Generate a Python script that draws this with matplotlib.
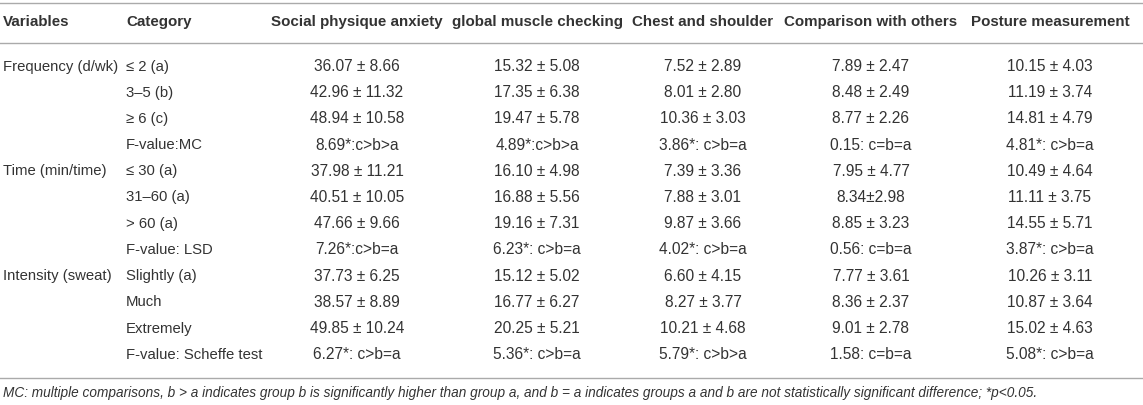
import matplotlib
matplotlib.use("Agg")
import matplotlib.pyplot as plt
from matplotlib.lines import Line2D

plt.rcParams['font.family'] = ['Liberation Sans', 'DejaVu Sans']

W, H = 1143, 405

headers = ["Variables", "Category", "Social physique anxiety", "global muscle checking",
           "Chest and shoulder", "Comparison with others", "Posture measurement"]

variables = ["Frequency (d/wk)", "", "", "",
             "Time (min/time)", "", "", "",
             "Intensity (sweat)", "", "", ""]

categories = ["\u2264 2 (a)", "3\u20135 (b)", "\u2265 6 (c)", "F-value:MC",
              "\u2264 30 (a)", "31\u201360 (a)", "> 60 (a)", "F-value: LSD",
              "Slightly (a)", "Much", "Extremely", "F-value: Scheffe test"]

social_physique = ["36.07 \u00b1 8.66", "42.96 \u00b1 11.32", "48.94 \u00b1 10.58", "8.69*:c>b>a",
                   "37.98 \u00b1 11.21", "40.51 \u00b1 10.05", "47.66 \u00b1 9.66", "7.26*:c>b=a",
                   "37.73 \u00b1 6.25", "38.57 \u00b1 8.89", "49.85 \u00b1 10.24", "6.27*: c>b=a"]

muscle_checking = ["15.32 \u00b1 5.08", "17.35 \u00b1 6.38", "19.47 \u00b1 5.78", "4.89*:c>b>a",
                   "16.10 \u00b1 4.98", "16.88 \u00b1 5.56", "19.16 \u00b1 7.31", "6.23*: c>b=a",
                   "15.12 \u00b1 5.02", "16.77 \u00b1 6.27", "20.25 \u00b1 5.21", "5.36*: c>b=a"]

chest_shoulder = ["7.52 \u00b1 2.89", "8.01 \u00b1 2.80", "10.36 \u00b1 3.03", "3.86*: c>b=a",
                  "7.39 \u00b1 3.36", "7.88 \u00b1 3.01", "9.87 \u00b1 3.66", "4.02*: c>b=a",
                  "6.60 \u00b1 4.15", "8.27 \u00b1 3.77", "10.21 \u00b1 4.68", "5.79*: c>b>a"]

comparison = ["7.89 \u00b1 2.47", "8.48 \u00b1 2.49", "8.77 \u00b1 2.26", "0.15: c=b=a",
              "7.95 \u00b1 4.77", "8.34\u00b12.98", "8.85 \u00b1 3.23", "0.56: c=b=a",
              "7.77 \u00b1 3.61", "8.36 \u00b1 2.37", "9.01 \u00b1 2.78", "1.58: c=b=a"]

posture = ["10.15 \u00b1 4.03", "11.19 \u00b1 3.74", "14.81 \u00b1 4.79", "4.81*: c>b=a",
           "10.49 \u00b1 4.64", "11.11 \u00b1 3.75", "14.55 \u00b1 5.71", "3.87*: c>b=a",
           "10.26 \u00b1 3.11", "10.87 \u00b1 3.64", "15.02 \u00b1 4.63", "5.08*: c>b=a"]

footnote = ("MC: multiple comparisons, b > a indicates group b is significantly higher than group a, "
            "and b = a indicates groups a and b are not statistically significant difference; *p<0.05.")

value_cols = [social_physique, muscle_checking, chest_shoulder, comparison, posture]

fig = plt.figure(figsize=(W / 100, H / 100), dpi=100)
fig.patch.set_facecolor("white")

txt_color = "#333333"
line_color = "#aaaaaa"
fs_head = 10.9
fs_left = 10.7
fs_val = 11.2
fs_note = 9.85


def fx(x):
    return x / W


def fy(y):
    return 1 - y / H


def hline(y):
    fig.add_artist(Line2D([0, 1], [fy(y), fy(y)], color=line_color, lw=1.0,
                          transform=fig.transFigure))


hline(2.5)
hline(43)
hline(378)

# column anchors (pixels)
left_x = [3, 126]
center_x = [357, 537, 703, 871, 1050]

header_y = 22
fig.text(fx(left_x[0]), fy(header_y), headers[0], ha="left", va="center",
         fontsize=fs_head, fontweight="bold", color=txt_color)
fig.text(fx(left_x[1]), fy(header_y), headers[1], ha="left", va="center",
         fontsize=fs_head, fontweight="bold", color=txt_color)
for cx, h in zip(center_x, headers[2:]):
    fig.text(fx(cx), fy(header_y), h, ha="center", va="center",
             fontsize=fs_head, fontweight="bold", color=txt_color)

row0, row_step = 66.5, 26.2
for i in range(len(categories)):
    y = row0 + i * row_step
    if variables[i]:
        fig.text(fx(left_x[0]), fy(y), variables[i], ha="left", va="center",
                 fontsize=fs_left, color=txt_color)
    fig.text(fx(left_x[1]), fy(y), categories[i], ha="left", va="center",
             fontsize=fs_left, color=txt_color)
    for cx, col in zip(center_x, value_cols):
        fig.text(fx(cx), fy(y), col[i], ha="center", va="center",
                 fontsize=fs_val, color=txt_color)

fig.text(fx(3), fy(393), footnote, ha="left", va="center", fontsize=fs_note,
         style="italic", color=txt_color)

fig.savefig("out.png", dpi=100, facecolor="white")
